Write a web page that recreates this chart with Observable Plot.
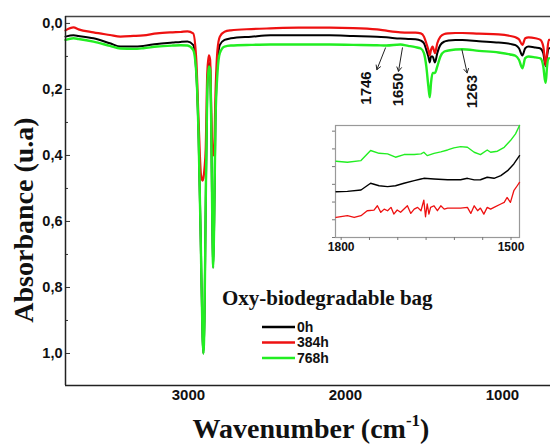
<!DOCTYPE html>
<html><head><meta charset="utf-8">
<script src="https://cdn.jsdelivr.net/npm/d3@7"></script>
<script src="https://cdn.jsdelivr.net/npm/@observablehq/plot@0.6"></script>
<style>
body{margin:0;background:#fff;}
#wrap{position:relative;width:550px;height:446px;overflow:hidden;background:#fff;}
#wrap svg{position:absolute;}
</style></head><body><div id="wrap"></div>
<script>
// ---- main spectrum data (wavenumber, cm-1) ----
const wavenumbers = [3783,3732,3700,3605,3500,3433,3350,3287,3200,3100,
  3050,3006,2970,2950,2935,2920,2910,2905,2898,2890,
  2880,2870,2862,2855,2848,2843,2836,2828,2815,2800,
  2770,2730,2600,2478,2300,2100,1950,1800,1740,1650,
  1600,1554,1520,1500,1485,1472,1463,1455,1445,1430,
  1415,1395,1370,1344,1300,1255,1150,1025,950,917,
  895,873,855,834,790,758,740,730,724,716,
  705,694];
const abs0h = [.040,.036,.038,.045,.060,.070,.070,.068,.062,.058,
  .056,.055,.065,.150,.350,.700,.950,1.000,.900,.550,
  .200,.120,.130,.300,.600,.740,.600,.300,.120,.065,
  .050,.045,.040,.036,.036,.036,.038,.040,.042,.046,
  .047,.048,.052,.060,.080,.100,.118,.100,.100,.118,
  .090,.065,.055,.052,.050,.050,.054,.058,.062,.066,
  .075,.097,.075,.070,.073,.076,.090,.120,.130,.100,
  .075,.075];
const abs384h = [.021,.012,.018,.027,.035,.040,.038,.036,.030,.027,
  .026,.024,.030,.110,.300,.460,.476,.470,.440,.380,
  .150,.097,.110,.250,.380,.400,.380,.220,.080,.040,
  .025,.021,.017,.015,.013,.013,.014,.018,.022,.027,
  .028,.028,.030,.040,.060,.080,.097,.080,.070,.090,
  .060,.040,.032,.030,.029,.029,.031,.033,.038,.042,
  .048,.065,.045,.042,.045,.050,.070,.110,.127,.090,
  .050,.050];
const abs768h = [.050,.045,.047,.055,.068,.076,.077,.075,.070,.067,
  .066,.067,.080,.150,.350,.700,.950,1.000,.900,.550,
  .200,.130,.140,.300,.600,.740,.600,.300,.150,.090,
  .070,.067,.065,.064,.064,.064,.065,.066,.067,.064,
  .068,.072,.076,.090,.130,.190,.224,.180,.150,.150,
  .130,.100,.085,.082,.079,.078,.083,.088,.094,.098,
  .110,.136,.105,.100,.103,.106,.130,.170,.180,.130,
  .106,.105];

const seriesNames = ["0h","384h","768h"];
const seriesColors = ["#000000","#ee1111","#22ee22"];

const xDomain = [3783, 694];
const yDomain = [-0.021, 1.097];
const xTicks = [3000, 2000, 1000];
const yTicks = [0, 0.2, 0.4, 0.6, 0.8, 1.0];
const yMinorTicks = [0.1, 0.3, 0.5, 0.7, 0.9];

// peak annotations
const peakLabels = ["1746", "1650", "1263"];
const peakLabelX = [1866, 1662, 1190];
const peakLabelY = [0.145, 0.150, 0.156];
const arrowX1 = [1745, 1637, 1258];
const arrowY1 = [0.074, 0.074, 0.080];
const arrowX2 = [1800, 1662, 1225];
const arrowY2 = [0.140, 0.145, 0.150];

// ---- inset data (1800-1500 cm-1, relative units) ----
const insetWn768 = [1809,1789,1765,1748,1733,1718,1704,1689,1671,1659,1654,1648,1636,1624,1612,1601,1589,1577,1565,1554,1542,1536,1524,1512,1501,1492,1485];
const inset768 = [1.70,1.75,1.66,1.09,1.25,1.28,1.47,1.32,1.32,1.28,1.19,1.38,1.25,1.17,1.06,0.94,0.87,0.91,1.19,1.32,1.06,1.19,1.13,0.91,0.53,0.15,-0.32];
const insetWn0 = [1809,1789,1765,1748,1733,1718,1704,1689,1671,1659,1654,1636,1612,1589,1577,1565,1554,1542,1530,1518,1506,1495,1485];
const inset0 = [3.42,3.40,3.32,2.94,3.08,3.13,3.08,2.94,2.79,2.70,2.66,2.70,2.74,2.74,2.66,2.75,2.74,2.60,2.66,2.51,2.23,1.85,1.38];
const insetWn384 = [1809,1789,1777,1765,1754,1742,1736,1730,1724,1718,1712,1707,1701,1695,1683,1677,1671,1665,1659,1654,1651,1648,1645,1642,1636,1630,1624,1618,1612,1601,1589,1577,1571,1565,1559,1554,1548,1542,1536,1530,1518,1512,1507,1501,1495,1489,1485];
const inset384 = [4.87,4.77,4.87,4.77,4.49,4.45,4.21,4.58,4.40,4.49,4.30,4.68,4.45,4.58,4.21,4.64,4.40,4.30,4.49,3.89,4.83,4.11,4.68,4.30,4.21,4.49,4.21,4.40,4.34,4.34,4.34,4.30,4.64,4.21,4.49,4.34,4.68,4.30,4.40,4.30,4.11,4.02,3.74,4.02,3.36,3.08,2.89];
const insetXDomain = [1810, 1485];
const insetYDomain = [-0.32, 6.0];
const insetXTicks = [1800, 1750, 1700, 1650, 1600, 1550, 1500];
const insetXLabels = [1800, 1500];
const insetYTicks = [0, 1, 2, 3, 4, 5, 6];

// ---- build tables ----
const toRows = (xs, ys) => xs.map((x, i) => ({wn: x, a: ys[i]}));
const mainSeries = [abs0h, abs384h, abs768h].map(v => toRows(wavenumbers, v));
const arrows = peakLabels.map((t, i) => ({x1: arrowX1[i], y1: arrowY1[i], x2: arrowX2[i], y2: arrowY2[i]}));
const labels = peakLabels.map((t, i) => ({text: t, x: peakLabelX[i], y: peakLabelY[i]}));

const sans = "'Liberation Sans', Arial, sans-serif";
const serif = "'Liberation Serif', 'Times New Roman', serif";
const fmtComma = d => d.toFixed(1).replace(".", ",");

const main = Plot.plot({
  width: 550, height: 446,
  marginTop: 16, marginRight: 0, marginBottom: 61, marginLeft: 65,
  style: {fontFamily: sans, background: "transparent", overflow: "visible"},
  x: {domain: xDomain},
  y: {domain: yDomain, reverse: true},
  marks: [
    Plot.axisX({ticks: xTicks, tickSize: 0, tickPadding: 4, label: null, fontSize: 15, fontWeight: "bold", tickFormat: d => String(d), fill: "#111"}),
    Plot.axisY({ticks: yTicks, tickSize: 0, tickPadding: 3, label: null, fontSize: 14.5, fontWeight: "bold", tickFormat: fmtComma, fill: "#111"}),
    Plot.axisY({ticks: yTicks, tickSize: 5, dx: 5, tickFormat: () => "", label: null, stroke: "#333"}),
    Plot.axisY({ticks: yMinorTicks, tickSize: 3, dx: 3, tickFormat: () => "", label: null, stroke: "#333"}),
    Plot.line(mainSeries[0], {x: "wn", y: "a", stroke: seriesColors[0], strokeWidth: 2, curve: "monotone-x"}),
    Plot.line(mainSeries[1], {x: "wn", y: "a", stroke: seriesColors[1], strokeWidth: 2.2, curve: "monotone-x"}),
    Plot.line(mainSeries[2], {x: "wn", y: "a", stroke: seriesColors[2], strokeWidth: 2.4, curve: "monotone-x"}),
    Plot.ruleY([yDomain[0]], {stroke: "#444", strokeWidth: 1.5}),
    Plot.ruleY([yDomain[1]], {stroke: "#222", strokeWidth: 1.5}),
    Plot.ruleX([xDomain[0]], {stroke: "#222", strokeWidth: 1.5}),
    Plot.arrow(arrows, {x1: "x1", y1: "y1", x2: "x2", y2: "y2", stroke: "#222", strokeWidth: 1, headLength: 7, bend: 0}),
    Plot.text(labels, {x: "x", y: "y", text: "text", rotate: -90, textAnchor: "end", fontSize: 15, fontWeight: "bold", fill: "#111"})
  ]
});

const svg = d3.select(main);
// axis titles
svg.append("text")
  .attr("x", 311).attr("y", 438)
  .attr("text-anchor", "middle")
  .attr("font-family", serif).attr("font-weight", "bold").attr("font-size", 28)
  .attr("fill", "#111")
  .call(t => {
    t.append("tspan").text("Wavenumber (cm");
    t.append("tspan").attr("font-size", 17).attr("dy", -12).text("-1");
    t.append("tspan").attr("dy", 12).text(")");
  });
svg.append("text")
  .attr("transform", "translate(33,220) rotate(-90)")
  .attr("text-anchor", "middle")
  .attr("font-family", serif).attr("font-weight", "bold").attr("font-size", 28)
  .attr("fill", "#111")
  .text("Absorbance (u.a)");

// legend
const lg = svg.append("g").attr("text-anchor", "start");
lg.append("text").attr("x", 222).attr("y", 305)
  .attr("font-family", serif).attr("font-weight", "bold").attr("font-size", 21)
  .attr("fill", "#111").text("Oxy-biodegradable bag");
seriesNames.forEach((n, i) => {
  const yy = 327 + i * 15.5;
  lg.append("line").attr("x1", 262).attr("x2", 295).attr("y1", yy).attr("y2", yy)
    .attr("stroke", seriesColors[i]).attr("stroke-width", 2.5);
  lg.append("text").attr("x", 297).attr("y", yy).attr("dy", "0.35em")
    .attr("font-family", sans).attr("font-weight", "bold").attr("font-size", 14)
    .attr("fill", "#111").text(n);
});

document.getElementById("wrap").appendChild(main);

// inset
const inset = Plot.plot({
  width: 204, height: 137,
  marginLeft: 10, marginRight: 10, marginTop: 5, marginBottom: 20,
  style: {fontFamily: sans, background: "white", overflow: "visible"},
  x: {domain: insetXDomain},
  y: {domain: insetYDomain, reverse: true},
  marks: [
    Plot.frame({stroke: "#999", strokeWidth: 1.2}),
    Plot.axisX({ticks: insetXTicks, tickSize: 3, tickPadding: 2, label: null, fontSize: 12, fontWeight: "bold", stroke: "#777",
      tickFormat: d => insetXLabels.includes(d) ? String(d) : "", fill: "#111"}),
    Plot.axisY({ticks: insetYTicks, tickSize: 3, tickFormat: () => "", label: null, stroke: "#777"}),
    Plot.line(toRows(insetWn0, inset0), {x: "wn", y: "a", stroke: seriesColors[0], strokeWidth: 1.4}),
    Plot.line(toRows(insetWn384, inset384), {x: "wn", y: "a", stroke: seriesColors[1], strokeWidth: 1.3}),
    Plot.line(toRows(insetWn768, inset768), {x: "wn", y: "a", stroke: seriesColors[2], strokeWidth: 1.4})
  ]
});
inset.style.left = "325px";
inset.style.top = "120px";
document.getElementById("wrap").appendChild(inset);
</script></body></html>
